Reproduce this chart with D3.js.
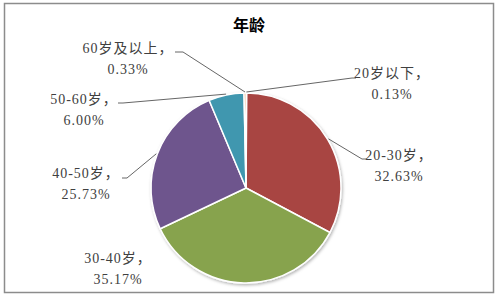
<!DOCTYPE html>
<html>
<head>
<meta charset="utf-8">
<script src="https://cdn.jsdelivr.net/npm/d3@7"></script>
<style>
  body { margin: 0; background: #fff; }
  svg { display: block; }
  .lbl { font-family: "Liberation Serif", "Noto Sans CJK SC", serif; font-size: 14px; fill: #404040; letter-spacing: 1px; }
</style>
</head>
<body>
<div id="chart"></div>
<script>
// data
const categories = ["20岁以下", "20-30岁", "30-40岁", "40-50岁", "50-60岁", "60岁及以上"];
const shares = [0.13, 32.63, 35.17, 25.73, 6.00, 0.33];
const shareLabels = ["0.13%", "32.63%", "35.17%", "25.73%", "6.00%", "0.33%"];
const colors = ["#4F81BD", "#A84543", "#87A34E", "#6E548D", "#3F97AF", "#E4873A"];

// label placement (centre x, first line y, leader elbow and end)
const labelLayout = [
  { x: 392, y: 73, elbow: [352, 78], end: [356, 78] },
  { x: 399, y: 155, elbow: [362, 159], end: [367, 159] },
  { x: 118, y: 258, elbow: null, end: null },
  { x: 86, y: 173, elbow: [127, 178], end: [122, 178] },
  { x: 84, y: 99, elbow: [123, 103], end: [118, 103] },
  { x: 128, y: 48, elbow: [183, 52], end: [175, 52] }
];

const W = 498, H = 296;
const cx = 246, cy = 188, r = 95;

const svg = d3.select("#chart").append("svg")
  .attr("width", W).attr("height", H);

const defs = svg.append("defs");
const f = defs.append("filter").attr("id", "shadow")
  .attr("x", "-20%").attr("y", "-20%").attr("width", "140%").attr("height", "140%");
f.append("feDropShadow").attr("dx", 1).attr("dy", 1.5)
  .attr("stdDeviation", 1.5).attr("flood-color", "#000").attr("flood-opacity", 0.3);

// frame
svg.append("rect")
  .attr("x", 4.5).attr("y", 3.5).attr("width", 489).attr("height", 289)
  .attr("fill", "#fff").attr("stroke", "#8c8c8c").attr("stroke-width", 1.5);

// title
svg.append("text")
  .attr("x", 249).attr("y", 31)
  .attr("text-anchor", "middle")
  .style("font-family", "'Noto Sans CJK SC', sans-serif")
  .style("font-size", "16px").style("font-weight", "bold")
  .attr("fill", "#000")
  .text("年龄");

const data = categories.map((c, i) => ({ cat: c, value: shares[i], label: shareLabels[i], color: colors[i], lay: labelLayout[i] }));

const pie = d3.pie().sort(null).value(d => d.value);
const arcs = pie(data);
const arc = d3.arc().innerRadius(0).outerRadius(r);
const edge = d3.arc().innerRadius(r + 1).outerRadius(r + 1);

const g = svg.append("g").attr("transform", `translate(${cx},${cy})`);

g.append("g").attr("filter", "url(#shadow)")
  .selectAll("path")
  .data(arcs)
  .enter().append("path")
  .attr("d", arc)
  .attr("fill", d => d.data.color)
  .attr("stroke", "#fff")
  .attr("stroke-width", 1.5)
  .attr("stroke-linejoin", "round");

// leader lines
svg.append("g").selectAll("polyline")
  .data(arcs.filter(d => d.data.lay.elbow))
  .enter().append("polyline")
  .attr("points", d => {
    const p = edge.centroid(d);
    return [[p[0] + cx, p[1] + cy], d.data.lay.elbow, d.data.lay.end].map(q => q.join(",")).join(" ");
  })
  .attr("fill", "none")
  .attr("stroke", "#666")
  .attr("stroke-width", 1);

// labels
const lbl = svg.append("g").selectAll("text")
  .data(arcs)
  .enter().append("text")
  .attr("class", "lbl")
  .attr("text-anchor", "middle");
lbl.append("tspan")
  .attr("x", d => d.data.lay.x).attr("y", d => d.data.lay.y + 5)
  .text(d => d.data.cat + "，");
lbl.append("tspan")
  .attr("x", d => d.data.lay.x).attr("y", d => d.data.lay.y + 26)
  .text(d => d.data.label);
</script>
</body>
</html>
